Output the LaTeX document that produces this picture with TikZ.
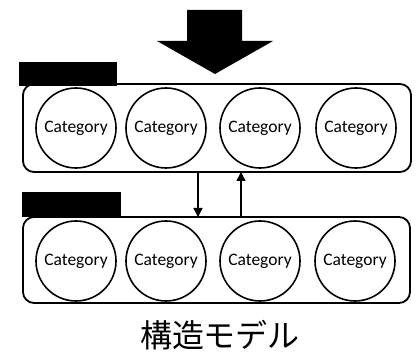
\documentclass[tikz,border=0pt]{standalone}
\usepackage{fontspec}
\setmainfont{Carlito}
\newfontfamily\cjk{Noto Sans CJK JP}
\usetikzlibrary{arrows.meta}
\begin{document}
\begin{tikzpicture}[x=1pt,y=-1pt,
  grp/.style={draw,line width=1.8pt,rounded corners=11pt},
  cat/.style={draw,circle,line width=1.6pt,minimum size=80pt,inner sep=0pt,font=\fontsize{17.5}{20}\selectfont},
  lab/.style={fill=black},
  conn/.style={line width=1.5pt,-{Triangle[length=9pt,width=9pt]}}]
\useasboundingbox (0,0) rectangle (416,358);
% big arrow
\fill (187,10) -- (242,10) -- (242,41) -- (273,41) -- (215,74) -- (157,41) -- (187,41) -- cycle;
% top group
\fill[lab] (19,62) rectangle (117,86);
\draw[grp] (23,84) rectangle (411,172);
\node[cat] (t1) at (76,128) {Category};
\node[cat] (t2) at (166,128) {Category};
\node[cat] (t3) at (260,128) {Category};
\node[cat] (t4) at (356,128) {Category};
% bottom group
\fill[lab] (22,192) rectangle (121,217);
\draw[grp] (23,217) rectangle (410,303);
\node[cat] (b1) at (76,261) {Category};
\node[cat] (b2) at (166,261) {Category};
\node[cat] (b3) at (260,261) {Category};
\node[cat] (b4) at (355,261) {Category};
\coordinate (d1) at (198,172);
\coordinate (d2) at (198,217);
\coordinate (u1) at (241,217);
\coordinate (u2) at (241,172);
\draw[conn] (d1) -- (d2);
\draw[conn] (u1) -- (u2);
\node[font=\cjk\fontsize{32}{36}\selectfont] (title) at (220,335) {構造モデル};
\end{tikzpicture}
\end{document}
